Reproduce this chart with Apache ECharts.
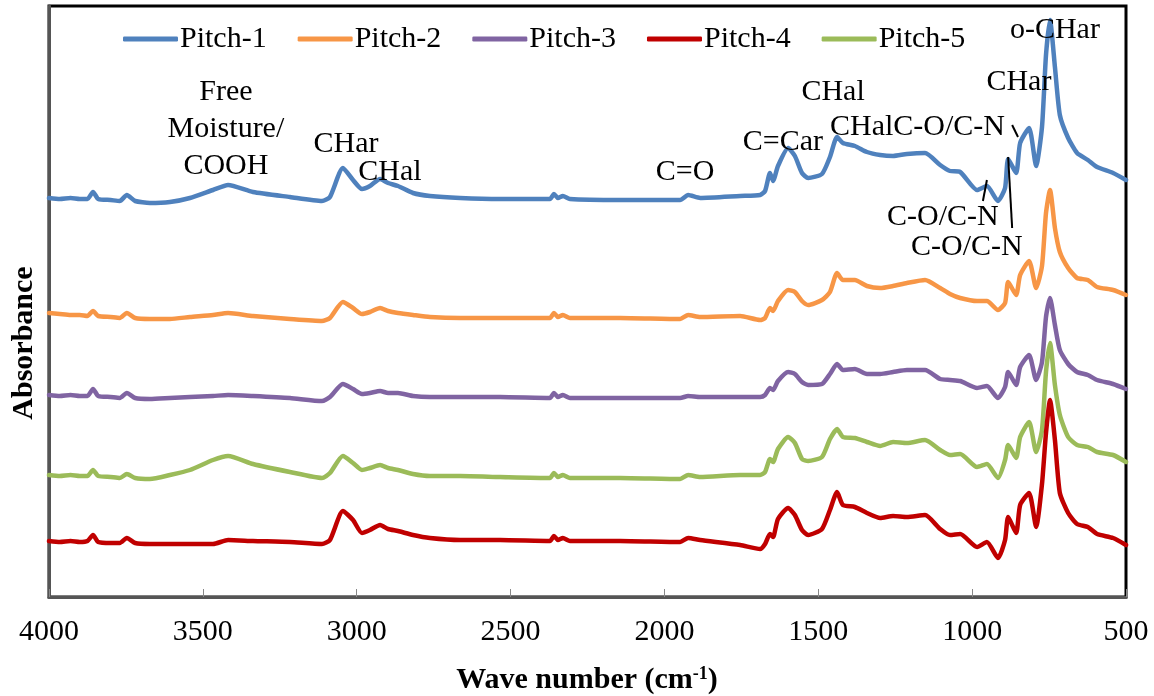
<!DOCTYPE html>
<html>
<head>
<meta charset="utf-8">
<script src="https://cdn.jsdelivr.net/npm/echarts@6/dist/echarts.min.js"></script>
<style>
html,body{margin:0;padding:0;background:#fff;}
#chart{width:1154px;height:696px;}
</style>
</head>
<body>
<div id="chart"></div>
<script>
// Wave numbers (cm-1)
const wavenumbers = [4000,3965,3930,3900,3875,3857,3840,3800,3770,3747,3720,3672,3607,3542,3467,3418,3337,3217,3113,3087,3045,3012,2983,2957,2924,2898,2866,2817,2762,2664,2534,2372,2359,2346,2330,2307,2144,1949,1923,1884,1754,1689,1673,1657,1647,1631,1598,1576,1553,1533,1488,1462,1439,1420,1381,1342,1299,1257,1212,1153,1104,1072,1039,984,952,916,893,883,857,844,815,792,773,760,747,731,715,688,659,624,594,542,500];

// Absorbance (offset, arbitrary units) per sample
const pitch1 = [3.99,3.98,3.99,3.98,3.98,4.05,3.98,3.97,3.96,4.02,3.96,3.94,3.95,3.99,4.07,4.12,4.05,4.00,3.96,4.00,4.29,4.17,4.08,4.11,4.18,4.14,4.11,4.04,4.01,3.99,3.98,3.98,4.03,3.99,4.01,3.98,3.97,3.97,4.02,3.99,4.01,4.02,4.06,4.24,4.16,4.31,4.49,4.41,4.24,4.19,4.23,4.40,4.60,4.54,4.51,4.45,4.42,4.41,4.43,4.44,4.32,4.26,4.25,4.07,4.11,3.96,4.09,4.38,4.24,4.54,4.69,4.31,4.70,5.42,5.77,5.30,4.82,4.59,4.44,4.37,4.30,4.24,4.17];
const pitch2 = [2.84,2.83,2.82,2.82,2.81,2.86,2.81,2.80,2.79,2.84,2.79,2.78,2.78,2.80,2.82,2.84,2.81,2.78,2.76,2.79,2.95,2.89,2.83,2.85,2.89,2.86,2.84,2.82,2.80,2.79,2.79,2.79,2.84,2.80,2.82,2.79,2.79,2.78,2.82,2.80,2.81,2.77,2.79,2.89,2.86,2.96,3.07,3.05,2.96,2.92,2.97,3.05,3.24,3.17,3.17,3.11,3.09,3.11,3.14,3.17,3.09,3.03,2.99,2.96,2.96,2.87,2.94,3.15,3.02,3.22,3.36,3.09,3.31,3.84,4.07,3.69,3.45,3.29,3.19,3.17,3.10,3.07,3.02];
const pitch3 = [2.02,2.01,2.02,2.01,2.01,2.08,2.01,2.00,1.99,2.04,1.99,1.98,1.99,2.00,2.01,2.02,2.01,1.99,1.96,2.00,2.13,2.08,2.03,2.04,2.06,2.04,2.04,2.01,2.00,2.00,2.00,1.99,2.04,2.00,2.02,1.99,1.99,1.99,2.01,2.00,2.00,2.00,2.02,2.09,2.07,2.16,2.25,2.23,2.15,2.12,2.13,2.23,2.33,2.27,2.28,2.23,2.23,2.25,2.27,2.27,2.18,2.17,2.16,2.09,2.11,1.99,2.10,2.25,2.12,2.30,2.42,2.17,2.35,2.80,2.99,2.72,2.47,2.33,2.25,2.22,2.17,2.13,2.08];
const pitch4 = [0.56,0.55,0.56,0.55,0.56,0.62,0.55,0.54,0.54,0.59,0.54,0.53,0.53,0.53,0.53,0.57,0.56,0.55,0.53,0.57,0.86,0.77,0.64,0.67,0.72,0.68,0.66,0.62,0.59,0.57,0.57,0.56,0.61,0.57,0.59,0.56,0.56,0.55,0.59,0.57,0.52,0.48,0.53,0.63,0.60,0.78,0.89,0.82,0.67,0.62,0.68,0.87,1.05,0.92,0.90,0.84,0.79,0.81,0.80,0.82,0.68,0.62,0.63,0.50,0.55,0.39,0.57,0.80,0.64,0.92,1.04,0.70,1.13,1.64,1.97,1.57,1.04,0.84,0.73,0.70,0.63,0.59,0.52];
const pitch5 = [1.22,1.21,1.22,1.21,1.21,1.27,1.21,1.20,1.19,1.23,1.19,1.18,1.22,1.27,1.37,1.41,1.33,1.25,1.19,1.24,1.41,1.34,1.27,1.29,1.32,1.29,1.27,1.23,1.21,1.21,1.20,1.19,1.24,1.20,1.22,1.19,1.19,1.18,1.22,1.20,1.22,1.22,1.25,1.38,1.35,1.48,1.60,1.54,1.38,1.36,1.40,1.58,1.68,1.60,1.59,1.55,1.51,1.55,1.54,1.57,1.47,1.42,1.43,1.30,1.33,1.19,1.37,1.52,1.39,1.60,1.75,1.45,1.67,2.25,2.54,2.12,1.82,1.60,1.52,1.50,1.45,1.42,1.35];

const seriesNames = ['Pitch-1','Pitch-2','Pitch-3','Pitch-4','Pitch-5'];
const seriesValues = [pitch1, pitch2, pitch3, pitch4, pitch5];
const seriesColors = ['#4F81BD','#F79646','#8064A2','#C00000','#9BBB59'];
const seriesZ = [2, 2, 2, 4, 3];

const xTicks = {min: 500, max: 4000, interval: 500};

// Peak annotations, anchored in data coordinates (wave number, absorbance)
const annotations = [
  {text: 'Free\nMoisture/\nCOOH', wn: 3425, v: 4.68, align: 'center'},
  {text: 'CHar', wn: 3035, v: 4.53, align: 'center'},
  {text: 'CHal', wn: 2892, v: 4.25, align: 'center'},
  {text: 'C=O', wn: 1933, v: 4.25, align: 'center'},
  {text: 'C=Car', wn: 1615, v: 4.55, align: 'center'},
  {text: 'CHal', wn: 1452, v: 5.05, align: 'center'},
  {text: 'CHalC-O/C-N', wn: 1462, v: 4.70, align: 'left'},
  {text: 'CHar', wn: 848, v: 5.15, align: 'center'},
  {text: 'o-CHar', wn: 731, v: 5.67, align: 'center'},
  {text: 'C-O/C-N', wn: 1095, v: 3.80, align: 'center'},
  {text: 'C-O/C-N', wn: 1017, v: 3.50, align: 'center'}
];
const leaders = [
  [[952, 4.17], [965, 3.96]],
  [[883, 4.40], [870, 3.69]],
  [[870, 4.72], [851, 4.60]]
];

const FONT = '"Liberation Serif", "Times New Roman", serif';

const chart = echarts.init(document.getElementById('chart'), null, {renderer: 'canvas'});

const option = {
  backgroundColor: '#fff',
  animation: false,
  grid: {left: 49, right: 28, top: 6, bottom: 99, show: true, borderColor: '#000', borderWidth: 3, containLabel: false},
  legend: {
    data: seriesNames,
    top: 19,
    left: 118,
    itemWidth: 55,
    itemHeight: 5,
    itemGap: 31,
    icon: 'roundRect',
    textStyle: {fontFamily: FONT, fontSize: 30, color: '#000', padding: [0,0,0,-3]}
  },
  xAxis: {
    type: 'value',
    inverse: true,
    min: xTicks.min,
    max: xTicks.max,
    interval: xTicks.interval,
    axisLine: {show: true, lineStyle: {color: '#555', width: 3}},
    axisTick: {show: true, inside: true, length: 8, lineStyle: {color: '#888', width: 1}},
    axisLabel: {fontFamily: FONT, fontSize: 30, color: '#000', margin: 20, formatter: v => String(v)},
    splitLine: {show: false}
  },
  yAxis: {
    type: 'value',
    min: 0,
    max: 5.91,
    axisLine: {show: true, onZero: false, lineStyle: {color: '#555', width: 3}},
    axisTick: {show: false},
    axisLabel: {show: false},
    splitLine: {show: false}
  },
  series: seriesNames.map((name, i) => ({
    name: name,
    type: 'line',
    data: wavenumbers.map((w, j) => [w, seriesValues[i][j]]),
    showSymbol: false,
    symbol: 'none',
    smooth: 0.2,
    z: seriesZ[i],
    lineStyle: {color: seriesColors[i], width: 4.5, join: 'round', cap: 'round'},
    itemStyle: {color: seriesColors[i]}
  }))
};
chart.setOption(option);

function drawOverlay() {
  const g = [];
  annotations.forEach(a => {
    const p = chart.convertToPixel({gridIndex: 0}, [a.wn, a.v]);
    g.push({
      type: 'text', x: p[0], y: p[1], z: 10,
      style: {text: a.text, fontFamily: FONT, fontSize: 30, fill: '#000', align: a.align, verticalAlign: 'middle', lineHeight: 37}
    });
  });
  leaders.forEach(l => {
    const p1 = chart.convertToPixel({gridIndex: 0}, l[0]);
    const p2 = chart.convertToPixel({gridIndex: 0}, l[1]);
    g.push({type: 'line', z: 10, shape: {x1: p1[0], y1: p1[1], x2: p2[0], y2: p2[1]}, style: {stroke: '#000', lineWidth: 2}});
  });
  // axis titles
  g.push({
    type: 'text', x: 24, y: 343, rotation: Math.PI / 2, z: 10,
    style: {text: 'Absorbance', fontFamily: FONT, fontSize: 30, fontWeight: 'bold', fill: '#000', align: 'center', verticalAlign: 'middle'}
  });
  g.push({
    type: 'text', x: 587, y: 680, z: 10,
    style: {
      text: '{a|Wave number (cm}{s|-1}{a|)}',
      align: 'center', verticalAlign: 'middle',
      rich: {
        a: {fontFamily: FONT, fontSize: 30, fontWeight: 'bold', fill: '#000', color: '#000'},
        s: {fontFamily: FONT, fontSize: 18, fontWeight: 'bold', fill: '#000', color: '#000', verticalAlign: 'top', padding: [0, 0, 10, 0]}
      }
    }
  });
  chart.setOption({graphic: g});
}
drawOverlay();
</script>
</body>
</html>
